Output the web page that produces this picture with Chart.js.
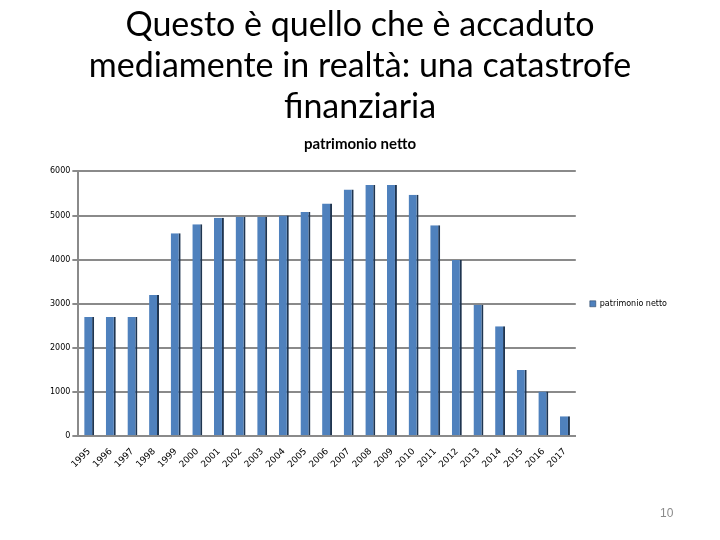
<!DOCTYPE html>
<html>
<head>
<meta charset="utf-8">
<script src="https://cdn.jsdelivr.net/npm/chart.js@4.4.1/dist/chart.umd.min.js"></script>
<style>
  html, body { margin: 0; padding: 0; background: #fff; }
  #wrap { position: absolute; left: 0; top: 0; width: 720px; height: 540px; }
  #pg { position: absolute; left: 660px; top: 506px; font: 12px "Liberation Sans", sans-serif; color: #8a8a8a; }
</style>
</head>
<body>
<div id="wrap"><canvas id="c" width="720" height="540"></canvas></div>
<div id="pg">10</div>
<script>
const titleLines = ['Questo è quello che è accaduto', 'mediamente in realtà: una catastrofe', 'finanziaria'];
const chartTitle = 'patrimonio netto';
const seriesName = 'patrimonio netto';
const years = ['1995','1996','1997','1998','1999','2000','2001','2002','2003','2004','2005','2006','2007','2008','2009','2010','2011','2012','2013','2014','2015','2016','2017'];
const values = [2700,2700,2700,3200,4600,4800,4950,4970,4970,5000,5080,5270,5590,5690,5690,5470,4780,3990,2980,2490,1500,1010,450];
const yTicks = [0,1000,2000,3000,4000,5000,6000];

new Chart(document.getElementById('c'), {
  type: 'bar',
  data: {
    labels: years,
    datasets: [{
      label: seriesName,
      data: values,
      backgroundColor: '#4F81BD',
      borderColor: '#1F3550',
      borderWidth: { left: 0, top: 0, bottom: 0, right: 2 },
      borderSkipped: false,
      categoryPercentage: 1,
      barPercentage: 0.46
    }]
  },
  options: {
    responsive: false,
    animation: false,
    layout: { padding: { left: 43, right: 43, top: 0, bottom: 68 } },
    plugins: {
      title: {
        display: true,
        text: titleLines,
        font: { family: 'Lato', size: 34, weight: 'normal' },
        color: '#000',
        lineHeight: 1.27,
        padding: { top: 5, bottom: 4 }
      },
      subtitle: {
        display: true,
        text: chartTitle,
        font: { family: 'Lato', size: 15, weight: 'bold' },
        color: '#000',
        padding: { top: 4, bottom: 18 }
      },
      legend: {
        position: 'right',
        fullSize: false,
        labels: {
          boxWidth: 6, boxHeight: 6,
          font: { family: 'DejaVu Sans', size: 8 },
          color: '#000',
          padding: 14
        }
      },
      tooltip: { enabled: false }
    },
    scales: {
      x: {
        grid: { display: false },
        border: { display: true, color: '#8a8a8a', width: 2 },
        ticks: {
          minRotation: 45, maxRotation: 45,
          font: { family: 'DejaVu Sans', size: 9 },
          color: '#000',
          padding: 2
        }
      },
      y: {
        min: 0, max: 6000,
        afterBuildTicks: (s) => { s.ticks = yTicks.map(v => ({ value: v })); },
        afterFit: (s) => { s.width += 5; },
        grid: { color: '#8a8a8a', lineWidth: 2, tickLength: 6 },
        border: { display: true, color: '#8a8a8a', width: 2 },
        ticks: {
          font: { family: 'DejaVu Sans', size: 8 },
          color: '#000',
          padding: 2,
          callback: (v) => String(v)
        }
      }
    }
  }
});
</script>
</body>
</html>
